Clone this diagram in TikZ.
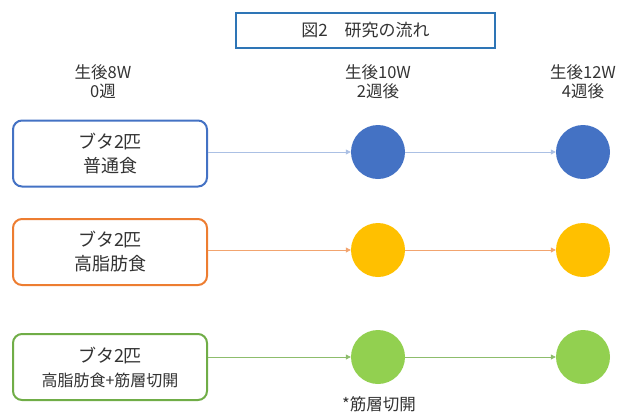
\documentclass[tikz,border=0pt]{standalone}
\usepackage{fontspec}
\setmainfont{Noto Sans CJK JP}
\usetikzlibrary{arrows.meta}
\definecolor{cblue}{HTML}{4472C4}
\definecolor{corange}{HTML}{ED7D31}
\definecolor{cgold}{HTML}{FFC000}
\definecolor{cgreen}{HTML}{70AD47}
\definecolor{clgreen}{HTML}{92D050}
\definecolor{ctitle}{HTML}{2E75B6}
\begin{document}
\begin{tikzpicture}[x=1pt,y=-1pt,
  grpbox/.style={draw, line width=2pt, rounded corners=9pt, fill=white, minimum width=194pt, minimum height=66pt, align=center, font=\fontsize{18}{24}\selectfont, text=black!80},
  dot/.style={circle, minimum size=54pt, inner sep=0pt},
  hdr/.style={align=center, font=\fontsize{16.5}{19}\selectfont, text=black!80},
  conn/.style={line width=0.8pt, -{Triangle[length=5pt,width=5pt]}}]
\useasboundingbox (0,0) rectangle (627,413);
\node[draw=ctitle, line width=1.2pt, minimum width=259pt, minimum height=35pt, font=\fontsize{17}{20}\selectfont, text=black!80] (title) at (365.5,30.5) {図2\quad 研究の流れ};
\node[hdr] (h1) at (103,82) {生後8W\\0週};
\node[hdr] (h2) at (378,82) {生後10W\\2週後};
\node[hdr] (h3) at (583,82) {生後12W\\4週後};
\node[grpbox, draw=cblue] (b1) at (110,153.5) {ブタ2匹\\普通食};
\node[grpbox, draw=corange] (b2) at (110,252) {ブタ2匹\\高脂肪食};
\node[grpbox, draw=cgreen] (b3) at (110,367) {ブタ2匹\\{\fontsize{16}{24}\selectfont 高脂肪食+筋層切開}};
\node[dot, fill=cblue] (c1a) at (378,152) {};
\node[dot, fill=cblue] (c1b) at (583,152) {};
\node[dot, fill=cgold] (c2a) at (378,250) {};
\node[dot, fill=cgold] (c2b) at (583,250) {};
\node[dot, fill=clgreen] (c3a) at (378,357) {};
\node[dot, fill=clgreen] (c3b) at (583,357) {};
\node[font=\fontsize{16.5}{18}\selectfont, text=black!80] (note) at (379,404) {*筋層切開};
\draw[conn, draw=cblue!45, fill=cblue!70] (b1.east |- c1a) -- (c1a);
\draw[conn, draw=cblue!45, fill=cblue!70] (c1a) -- (c1b);
\draw[conn, draw=corange!70, fill=corange] (b2.east |- c2a) -- (c2a);
\draw[conn, draw=corange!70, fill=corange] (c2a) -- (c2b);
\draw[conn, draw=cgreen!80, fill=cgreen] (b3.east |- c3a) -- (c3a);
\draw[conn, draw=cgreen!80, fill=cgreen] (c3a) -- (c3b);
\end{tikzpicture}
\end{document}
